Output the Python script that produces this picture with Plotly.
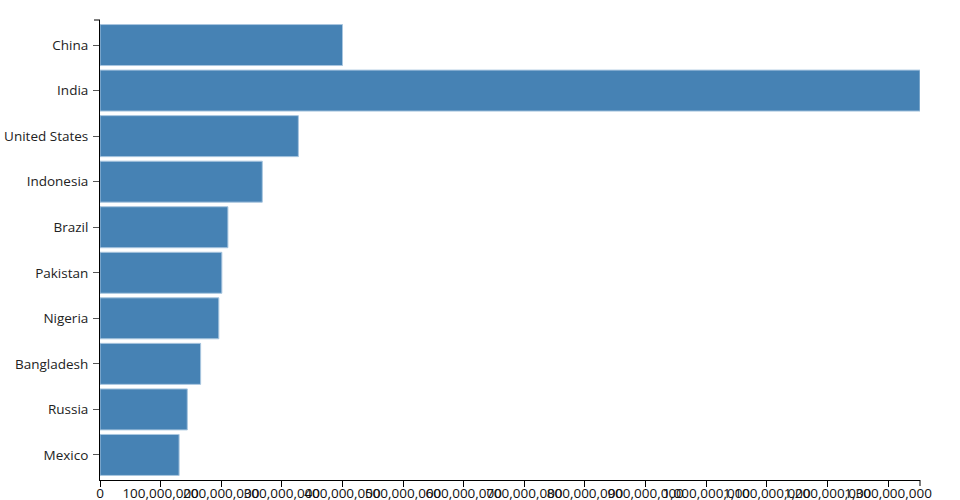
import plotly.graph_objects as go

countries = ["China", "India", "United States", "Indonesia", "Brazil",
             "Pakistan", "Nigeria", "Bangladesh", "Russia", "Mexico"]
population = [400_000_000, 1_352_600_000, 327_200_000, 267_700_000, 211_000_000,
              201_000_000, 196_000_000, 166_000_000, 144_000_000, 130_500_000]

tick_vals = [i * 100_000_000 for i in range(14)]
tick_text = [f"{v:,}" for v in tick_vals]

BAR = "#4682b4"
FONT = "Open Sans"
x_max = max(population)

fig = go.Figure(go.Bar(
    x=population,
    y=countries,
    orientation="h",
    marker=dict(color=BAR, line=dict(color="#a9c6df", width=1)),
    hoverinfo="x+y",
))

fig.update_layout(
    width=960, height=500,
    margin=dict(l=100, r=40, t=20, b=20),
    paper_bgcolor="white", plot_bgcolor="white",
    bargap=0.1,
    showlegend=False,
    font=dict(family=FONT, size=13.5, color="#222"),
)
fig.update_xaxes(
    range=[0, x_max], tickmode="array", tickvals=tick_vals, ticktext=tick_text,
    showgrid=False, zeroline=False, showline=True, linecolor="black", linewidth=1,
    ticks="outside", ticklen=6, tickcolor="black", tickangle=0,
    tickfont=dict(size=13.5, color="#111"), ticklabelstandoff=-5,
    automargin=False, fixedrange=True,
)
fig.update_yaxes(
    categoryorder="array", categoryarray=countries, range=[9.55, -0.55],
    showgrid=False, zeroline=False, showline=True, linecolor="black", linewidth=1,
    ticks="outside", ticklen=6, tickcolor="#555", tickfont=dict(size=13.5, color="#222"),
    ticklabelstandoff=2,
    automargin=False, fixedrange=True,
)

# d3-style outer ticks at the domain ends
fig.add_shape(type="line", xref="paper", yref="paper", x0=0, x1=-6 / 820, y0=1, y1=1,
              line=dict(color="black", width=1))
fig.add_shape(type="line", xref="paper", yref="paper", x0=1, x1=1, y0=0, y1=-6 / 460,
              line=dict(color="black", width=1))

# drop the default body margin so the figure sits flush in the window
fig.write_html("out.html", config={"displayModeBar": False},
               post_script="document.body.style.margin='0';")
